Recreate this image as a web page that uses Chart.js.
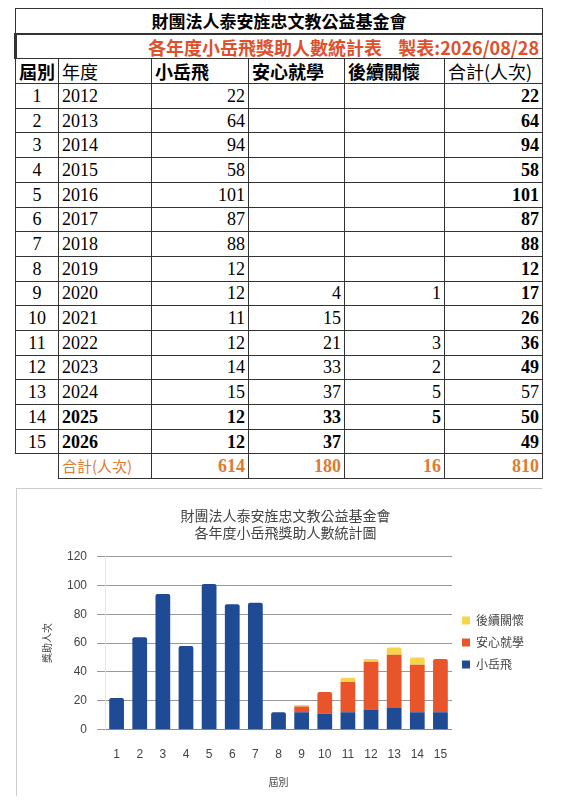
<!DOCTYPE html>
<html>
<head>
<meta charset="utf-8">
<script src="https://cdn.jsdelivr.net/npm/chart.js@4"></script>
<style>
  body { margin: 0; background: #fff; font-family: "Liberation Serif", "Noto Sans CJK TC", serif; }
  table { position: absolute; left: 14px; top: 8px; border-collapse: collapse; width: 527px; table-layout: fixed; }
  td { border: 1px solid #333; height: 23.7px; padding: 0 3px; font-size: 18px; line-height: 20px; white-space: nowrap; overflow: hidden; }
  .t1 { text-align: center; font-weight: bold; font-size: 17px; border-bottom: 2px solid #333; }
  .t2 { text-align: right; color: #e0502a; font-size: 18px; font-weight: bold; border-left: 3px solid #333; }
  .n { text-align: right; }
  .c { text-align: center; }
  .b { font-weight: bold; }
  .o { color: #e07a30; font-weight: bold; text-align: right; }
  .hd td { font-weight: bold; }
  #wrap { position: absolute; left: 16px; top: 488px; width: 525px; height: 307px; border-left: 1px solid #ccc; border-top: 1px solid #ccc; }
</style>
</head>
<body>
<table id="tbl"></table>
<div id="wrap"><canvas id="myChart" width="525" height="307"></canvas></div>
<script>
const SESSIONS = ["1","2","3","4","5","6","7","8","9","10","11","12","13","14","15"];
const YEARS = ["2012","2013","2014","2015","2016","2017","2018","2019","2020","2021","2022","2023","2024","2025","2026"];
const XIAOYUEFEI = [22,64,94,58,101,87,88,12,12,11,12,14,15,12,12];
const ANXIN = [null,null,null,null,null,null,null,null,4,15,21,33,37,33,37];
const HOUXU = [null,null,null,null,null,null,null,null,1,null,3,2,5,5,null];
const TOTALS = [22,64,94,58,101,87,88,12,17,26,36,49,57,50,49];
const SUMS = [614,180,16,810];

// 表格
function buildTable() {
    let html = '<colgroup><col style="width:43px"><col style="width:93px"><col style="width:97px"><col style="width:96px"><col style="width:100px"><col style="width:98px"></colgroup>';
    html += '<tr><td colspan="6" class="t1" style="font-family:\'Noto Sans CJK TC\'">財團法人泰安旌忠文教公益基金會</td></tr>';
    html += '<tr><td colspan="6" class="t2" style="font-family:\'Noto Sans CJK TC\'">各年度小岳飛獎助人數統計表 &nbsp;&nbsp; 製表:2026/08/28</td></tr>';
    html += '<tr class="hd" style="font-family:\'Noto Sans CJK TC\';font-size:15px"><td>屆別</td><td style="font-weight:normal">年度</td><td>小岳飛</td><td>安心就學</td><td>後續關懷</td><td style="font-weight:normal">合計(人次)</td></tr>';
    for (let i = 0; i < SESSIONS.length; i++) {
        const bold = i >= 13 ? ' b' : '';
        html += '<tr><td class="c">' + SESSIONS[i] + '</td><td class="' + bold + '">' + YEARS[i] + '</td>' +
            '<td class="n' + bold + '">' + XIAOYUEFEI[i] + '</td>' +
            '<td class="n' + bold + '">' + (ANXIN[i] ?? '') + '</td>' +
            '<td class="n' + bold + '">' + (HOUXU[i] ?? '') + '</td>' +
            '<td class="n' + (i === 12 ? '' : ' b') + '">' + TOTALS[i] + '</td></tr>';
    }
    html += '<tr><td style="border:none"></td><td style="font-family:\'Noto Sans CJK TC\';color:#e07a30;font-size:15px">合計(人次)</td>' +
        SUMS.map(v => '<td class="o">' + v + '</td>').join('') + '</tr>';
    document.getElementById("tbl").innerHTML = html;
}
buildTable();

const ctx = document.getElementById("myChart").getContext("2d");
new Chart(ctx, {
    type: "bar",
    data: {
        labels: SESSIONS,
        datasets: [
            { label: "小岳飛", data: XIAOYUEFEI, backgroundColor: "#1f4a94", borderRadius: 2 },
            { label: "安心就學", data: ANXIN, backgroundColor: "#e8552a", borderRadius: 2 },
            { label: "後續關懷", data: HOUXU, backgroundColor: "#f7d449", borderRadius: 2 },
        ],
    },
    options: {
        responsive: false,
        animation: false,
        layout: { padding: { left: 20, right: 8, top: 4, bottom: 4 } },
        plugins: {
            title: {
                display: true,
                text: ["財團法人泰安旌忠文教公益基金會", "各年度小岳飛獎助人數統計圖"],
                color: "#444",
                font: { size: 14, family: "Noto Sans CJK TC", weight: "normal" },
                padding: { top: 14, bottom: 16 },
            },
            legend: {
                position: "right",
                reverse: true,
                labels: { boxWidth: 8, boxHeight: 8, color: "#444", font: { size: 12, family: "Noto Sans CJK TC" } },
            },
        },
        scales: {
            x: {
                stacked: true,
                grid: { display: false },
                ticks: { color: "#444", font: { size: 12 }, padding: 10 },
                title: { display: true, text: "屆別", color: "#444", font: { size: 10, family: "Noto Sans CJK TC" } },
            },
            y: {
                stacked: true,
                min: 0, max: 120,
                ticks: { stepSize: 20, color: "#444", font: { size: 12 }, padding: 10 },
                grid: { color: "#999" },
                title: { display: true, text: "獎助人次", color: "#444", font: { size: 10, family: "Noto Sans CJK TC" } },
            },
        },
        datasets: { bar: { categoryPercentage: 0.85, barPercentage: 0.75 } },
    },
});
</script>
</body>
</html>
